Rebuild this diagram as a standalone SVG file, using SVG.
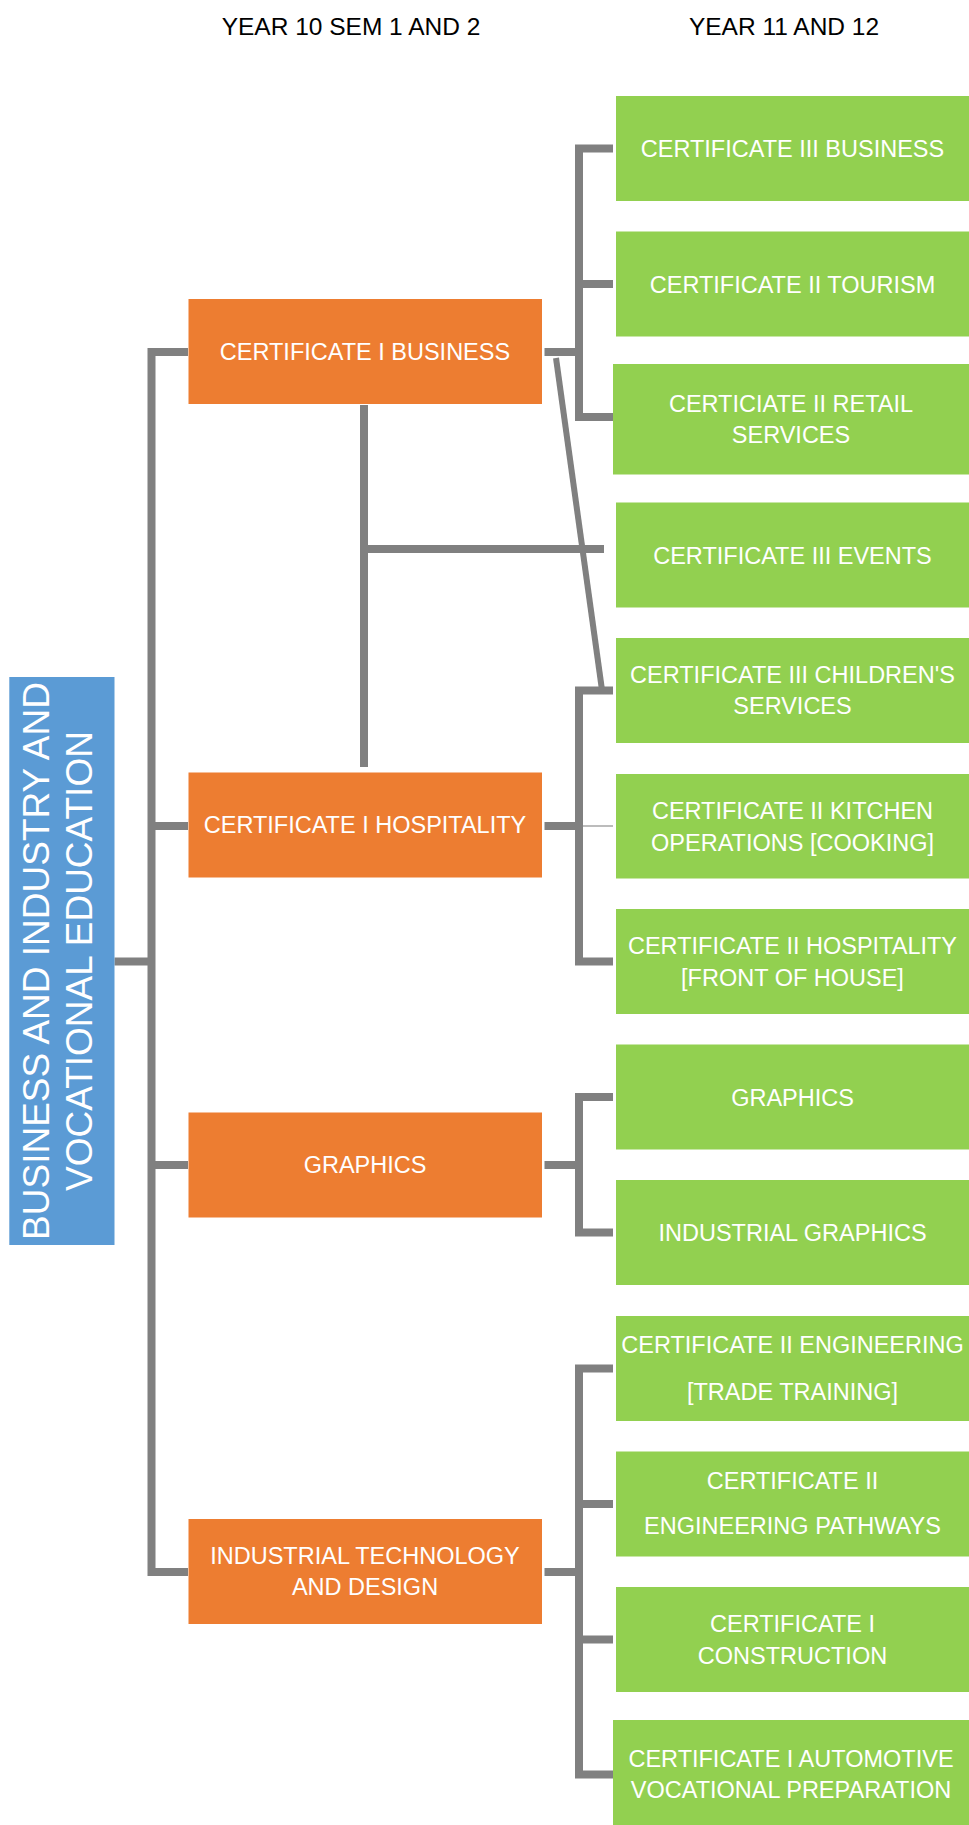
<svg xmlns="http://www.w3.org/2000/svg" width="969" height="1825" viewBox="0 0 969 1825">
<style>
  .hdr { font-family: "Liberation Sans", Arial, sans-serif; font-size: 24.5px; fill: #000; text-anchor: middle; }
  .t { font-family: "Liberation Sans", Arial, sans-serif; font-size: 23.5px; fill: #fff; text-anchor: middle; }
  .root { font-family: "Liberation Sans", Arial, sans-serif; font-size: 37px; fill: #fff; text-anchor: middle; }
  .org { fill: #ED7D31; }
  .grn { fill: #92D050; }
  .blu { fill: #5B9BD5; }
  .ln { fill: none; stroke: #808080; stroke-width: 8; stroke-linejoin: miter; stroke-linecap: butt; }
  .thin { fill: none; stroke: #A6A6A6; stroke-width: 1.5; }
</style>
<rect width="969" height="1825" fill="#fff"/>

<g id="headers">
  <text class="hdr" x="351" y="35">YEAR 10 SEM 1 AND 2</text>
  <text class="hdr" x="784" y="35">YEAR 11 AND 12</text>
</g>

<g id="connectors">
  <path class="ln" d="M188,352 H151.5 V1572 H188"/>
  <path class="ln" d="M151.5,826 H188"/>
  <path class="ln" d="M151.5,1165 H188"/>
  <path class="ln" d="M114.5,961.5 H151.5"/>
  <path class="ln" d="M613,148.5 H579 V417 H613"/>
  <path class="ln" d="M579,284 H613"/>
  <path class="ln" d="M544.5,352 H579"/>
  <path class="ln" d="M364,405 V767"/>
  <path class="ln" d="M368,549 H604"/>
  <path class="ln" d="M556,358 L602,690" style="stroke-width:6"/>
  <path class="ln" d="M613,690.5 H579 V961.5 H613"/>
  <path class="ln" d="M544.5,826 H579"/>
  <path class="thin" d="M583,826 H613"/>
  <path class="ln" d="M613,1097 H579 V1232.5 H613"/>
  <path class="ln" d="M544.5,1165 H579"/>
  <path class="ln" d="M613,1368.5 H579 V1774.5 H613"/>
  <path class="ln" d="M579,1504 H613"/>
  <path class="ln" d="M579,1639.5 H613"/>
  <path class="ln" d="M544.5,1572 H579"/>
</g>

<g id="root">
  <rect class="blu" x="9.3" y="677" width="105.2" height="568"/>
  <text class="root" transform="translate(49,961) rotate(-90)">BUSINESS AND INDUSTRY AND</text>
  <text class="root" transform="translate(92,961) rotate(-90)">VOCATIONAL EDUCATION</text>
</g>

<g id="cert1-business">
  <rect class="org" x="188.5" y="299" width="353.5" height="105"/>
  <text class="t" x="365" y="360">CERTIFICATE I BUSINESS</text>
</g>
<g id="cert1-hospitality">
  <rect class="org" x="188.5" y="772.5" width="353.5" height="105"/>
  <text class="t" x="365" y="833">CERTIFICATE I HOSPITALITY</text>
</g>
<g id="graphics-y10">
  <rect class="org" x="188.5" y="1112.5" width="353.5" height="105"/>
  <text class="t" x="365" y="1173">GRAPHICS</text>
</g>
<g id="itd">
  <rect class="org" x="188.5" y="1519" width="353.5" height="105"/>
  <text class="t" x="365" y="1564">INDUSTRIAL TECHNOLOGY</text>
  <text class="t" x="365" y="1595">AND DESIGN</text>
</g>

<g id="cert3-business">
  <rect class="grn" x="616" y="96" width="353" height="105"/>
  <text class="t" x="792.5" y="157">CERTIFICATE III BUSINESS</text>
</g>
<g id="cert2-tourism">
  <rect class="grn" x="616" y="231.5" width="353" height="105"/>
  <text class="t" x="792.5" y="292.5">CERTIFICATE II TOURISM</text>
</g>
<g id="cert2-retail">
  <rect class="grn" x="613" y="364" width="356" height="110.5"/>
  <text class="t" x="791" y="412.3">CERTICIATE II RETAIL</text>
  <text class="t" x="791" y="443.3">SERVICES</text>
</g>
<g id="cert3-events">
  <rect class="grn" x="616" y="502.5" width="353" height="105"/>
  <text class="t" x="792.5" y="563.5">CERTIFICATE III EVENTS</text>
</g>
<g id="cert3-children">
  <rect class="grn" x="616" y="638" width="353" height="105"/>
  <text class="t" x="792.5" y="683">CERTIFICATE III CHILDREN'S</text>
  <text class="t" x="792.5" y="714">SERVICES</text>
</g>
<g id="cert2-kitchen">
  <rect class="grn" x="616" y="774" width="353" height="104.5"/>
  <text class="t" x="792.5" y="818.5">CERTIFICATE II KITCHEN</text>
  <text class="t" x="792.5" y="850.5">OPERATIONS [COOKING]</text>
</g>
<g id="cert2-foh">
  <rect class="grn" x="616" y="909" width="353" height="105"/>
  <text class="t" x="792.5" y="954">CERTIFICATE II HOSPITALITY</text>
  <text class="t" x="792.5" y="985.5">[FRONT OF HOUSE]</text>
</g>
<g id="graphics-y11">
  <rect class="grn" x="616" y="1044.5" width="353" height="105"/>
  <text class="t" x="792.5" y="1105.5">GRAPHICS</text>
</g>
<g id="industrial-graphics">
  <rect class="grn" x="616" y="1180" width="353" height="105"/>
  <text class="t" x="792.5" y="1241">INDUSTRIAL GRAPHICS</text>
</g>
<g id="cert2-engineering">
  <rect class="grn" x="616" y="1316" width="353" height="105"/>
  <text class="t" x="792.5" y="1353">CERTIFICATE II ENGINEERING</text>
  <text class="t" x="792.5" y="1400">[TRADE TRAINING]</text>
</g>
<g id="cert2-eng-pathways">
  <rect class="grn" x="616" y="1451.5" width="353" height="105"/>
  <text class="t" x="792.5" y="1489">CERTIFICATE II</text>
  <text class="t" x="792.5" y="1534">ENGINEERING PATHWAYS</text>
</g>
<g id="cert1-construction">
  <rect class="grn" x="616" y="1587" width="353" height="105"/>
  <text class="t" x="792.5" y="1632">CERTIFICATE I</text>
  <text class="t" x="792.5" y="1663.5">CONSTRUCTION</text>
</g>
<g id="cert1-automotive">
  <rect class="grn" x="613" y="1720" width="356" height="105"/>
  <text class="t" x="791" y="1767">CERTIFICATE I AUTOMOTIVE</text>
  <text class="t" x="791" y="1798">VOCATIONAL PREPARATION</text>
</g>
</svg>
